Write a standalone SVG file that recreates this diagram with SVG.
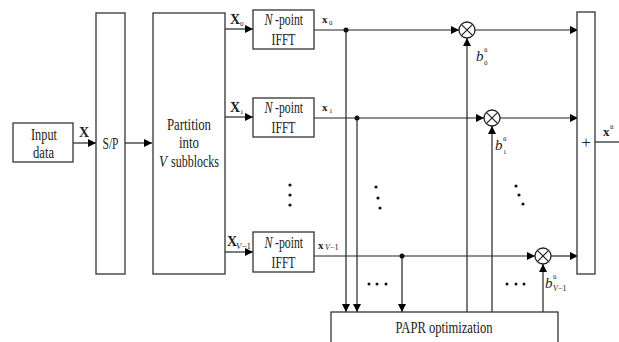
<svg xmlns="http://www.w3.org/2000/svg" width="619" height="342" viewBox="0 0 619 342">
<defs>
<marker id="ah" viewBox="0 0 10 10" refX="10" refY="5" markerWidth="8" markerHeight="8" markerUnits="userSpaceOnUse" orient="auto">
<path d="M0,0 L10,5 L0,10 z" fill="#000"/>
</marker>
<style>
.box{fill:#fff;stroke:#333;stroke-width:1.3}
.ln{fill:none;stroke:#222;stroke-width:1.2}
.dot{fill:#111}
</style>
</defs>
<rect width="619" height="342" fill="#fff"/>
<g id="connectors">
<line class="ln" x1="73" y1="143" x2="96" y2="143" marker-end="url(#ah)"/>
<line class="ln" x1="125" y1="143" x2="152" y2="143" marker-end="url(#ah)"/>
<line class="ln" x1="225" y1="29" x2="253" y2="29" marker-end="url(#ah)"/>
<line class="ln" x1="225" y1="117" x2="253" y2="117" marker-end="url(#ah)"/>
<line class="ln" x1="225" y1="252" x2="253" y2="252" marker-end="url(#ah)"/>
<line class="ln" x1="314" y1="30" x2="459" y2="30" marker-end="url(#ah)"/>
<line class="ln" x1="475" y1="30" x2="578" y2="30" marker-end="url(#ah)"/>
<line class="ln" x1="314" y1="118" x2="484" y2="118" marker-end="url(#ah)"/>
<line class="ln" x1="500" y1="118" x2="578" y2="118" marker-end="url(#ah)"/>
<line class="ln" x1="314" y1="256" x2="535" y2="256" marker-end="url(#ah)"/>
<line class="ln" x1="551" y1="256" x2="578" y2="256" marker-end="url(#ah)"/>
<line class="ln" x1="346" y1="30" x2="346" y2="312" marker-end="url(#ah)"/>
<line class="ln" x1="357" y1="118" x2="357" y2="312" marker-end="url(#ah)"/>
<line class="ln" x1="402" y1="256" x2="402" y2="312" marker-end="url(#ah)"/>
<line class="ln" x1="467" y1="312" x2="467" y2="38" marker-end="url(#ah)"/>
<line class="ln" x1="492" y1="312" x2="492" y2="126" marker-end="url(#ah)"/>
<line class="ln" x1="543" y1="312" x2="543" y2="264" marker-end="url(#ah)"/>
<line class="ln" x1="595" y1="142" x2="619" y2="142"/>
<circle class="dot" cx="346" cy="30" r="2.5"/>
<circle class="dot" cx="357" cy="118" r="2.5"/>
<circle class="dot" cx="402" cy="256" r="2.5"/>
</g>
<g font-family="Liberation Serif, Times New Roman, serif" fill="#222">
<g id="input">
<rect class="box" x="13" y="123" width="60" height="39"/>
<text x="44" y="140" font-size="16" text-anchor="middle" textLength="26" lengthAdjust="spacingAndGlyphs">Input</text>
<text x="43.5" y="158" font-size="16" text-anchor="middle" textLength="21" lengthAdjust="spacingAndGlyphs">data</text>
</g>
<text x="79" y="137" font-size="14" font-weight="bold">X</text>
<g id="sp">
<rect class="box" x="96" y="13" width="29" height="261"/>
<text x="110.5" y="149" font-size="16" text-anchor="middle" textLength="16" lengthAdjust="spacingAndGlyphs">S/P</text>
</g>
<g id="partition">
<rect class="box" x="153" y="13" width="72" height="261"/>
<text x="189" y="130" font-size="16" text-anchor="middle" textLength="44" lengthAdjust="spacingAndGlyphs">Partition</text>
<text x="189" y="148" font-size="16" text-anchor="middle" textLength="20" lengthAdjust="spacingAndGlyphs">into</text>
<text x="159" y="167" font-size="16" font-style="italic" textLength="8" lengthAdjust="spacingAndGlyphs">V</text>
<text x="171" y="167" font-size="16" textLength="48" lengthAdjust="spacingAndGlyphs">subblocks</text>
</g>
<text x="230" y="24" font-size="14" font-weight="bold">X</text><text x="240" y="26" font-size="7">0</text>
<text x="230" y="112" font-size="14" font-weight="bold">X</text><text x="240" y="114" font-size="7">1</text>
<text x="227" y="246" font-size="14" font-weight="bold">X</text><text x="236" y="249" font-size="9"><tspan font-style="italic">V</tspan>−1</text>
<g id="ifft0">
<rect class="box" x="253" y="10" width="61" height="39"/>
<text x="264.5" y="25" font-size="16" font-style="italic" textLength="8" lengthAdjust="spacingAndGlyphs">N</text>
<text x="275" y="25" font-size="16" textLength="28" lengthAdjust="spacingAndGlyphs">-point</text>
<text x="283.5" y="45" font-size="16" text-anchor="middle" textLength="24" lengthAdjust="spacingAndGlyphs">IFFT</text>
</g>
<g id="ifft1">
<rect class="box" x="253" y="98" width="61" height="39"/>
<text x="264.5" y="113" font-size="16" font-style="italic" textLength="8" lengthAdjust="spacingAndGlyphs">N</text>
<text x="275" y="113" font-size="16" textLength="28" lengthAdjust="spacingAndGlyphs">-point</text>
<text x="283.5" y="133" font-size="16" text-anchor="middle" textLength="24" lengthAdjust="spacingAndGlyphs">IFFT</text>
</g>
<g id="ifftV">
<rect class="box" x="253" y="232" width="61" height="40"/>
<text x="264.5" y="248" font-size="16" font-style="italic" textLength="8" lengthAdjust="spacingAndGlyphs">N</text>
<text x="275" y="248" font-size="16" textLength="28" lengthAdjust="spacingAndGlyphs">-point</text>
<text x="283.5" y="268" font-size="16" text-anchor="middle" textLength="24" lengthAdjust="spacingAndGlyphs">IFFT</text>
</g>
<text x="322" y="23" font-size="11" font-weight="bold">x</text><text x="329" y="25" font-size="7">0</text>
<text x="322" y="111" font-size="11" font-weight="bold">x</text><text x="329" y="113" font-size="7">1</text>
<text x="318" y="249" font-size="11" font-weight="bold">x</text><text x="325" y="250" font-size="8"><tspan font-style="italic">V</tspan>−1</text>
<g id="mult0">
<circle cx="467" cy="30" r="8" fill="#fff" stroke="#222" stroke-width="1.3"/>
<path class="ln" d="M461.3,24.3 L472.7,35.7 M472.7,24.3 L461.3,35.7"/>
</g>
<g id="mult1">
<circle cx="492" cy="118" r="8" fill="#fff" stroke="#222" stroke-width="1.3"/>
<path class="ln" d="M486.3,112.3 L497.7,123.7 M497.7,112.3 L486.3,123.7"/>
</g>
<g id="multV">
<circle cx="543" cy="256" r="8" fill="#fff" stroke="#222" stroke-width="1.3"/>
<path class="ln" d="M537.3,250.3 L548.7,261.7 M548.7,250.3 L537.3,261.7"/>
</g>
<text x="476" y="61" font-size="15" font-style="italic">b</text><text x="484" y="65" font-size="7">0</text><text x="484" y="52" font-size="7">ũ</text>
<text x="495" y="150" font-size="15" font-style="italic">b</text><text x="503" y="154" font-size="7">1</text><text x="503" y="141" font-size="7">ũ</text>
<text x="545" y="288" font-size="15" font-style="italic">b</text><text x="553" y="291" font-size="8"><tspan font-style="italic">V</tspan>−1</text><text x="553" y="279" font-size="7">ũ</text>
<g id="sum">
<rect class="box" x="577" y="12" width="18" height="262"/>
<text x="586" y="148" font-size="17" text-anchor="middle">+</text>
</g>
<text x="603" y="136" font-size="13" font-weight="bold">x</text><text x="610" y="129" font-size="7">ũ</text>
<g id="papr">
<rect class="box" x="331" y="312" width="227" height="40"/>
<text x="444" y="333" font-size="16" text-anchor="middle" textLength="97" lengthAdjust="spacingAndGlyphs">PAPR optimization</text>
</g>
</g>
<g id="dots">
<circle class="dot" cx="290" cy="185" r="1.6"/>
<circle class="dot" cx="290" cy="195" r="1.6"/>
<circle class="dot" cx="290" cy="205" r="1.6"/>
<circle class="dot" cx="376" cy="187" r="1.6"/>
<circle class="dot" cx="378" cy="198" r="1.6"/>
<circle class="dot" cx="380" cy="208" r="1.6"/>
<circle class="dot" cx="516" cy="186" r="1.6"/>
<circle class="dot" cx="519" cy="195" r="1.6"/>
<circle class="dot" cx="523" cy="204" r="1.6"/>
<circle class="dot" cx="369" cy="284" r="1.5"/>
<circle class="dot" cx="377" cy="284" r="1.5"/>
<circle class="dot" cx="386" cy="284" r="1.5"/>
<circle class="dot" cx="507" cy="284" r="1.5"/>
<circle class="dot" cx="516" cy="284" r="1.5"/>
<circle class="dot" cx="524" cy="284" r="1.5"/>
</g>
</svg>
